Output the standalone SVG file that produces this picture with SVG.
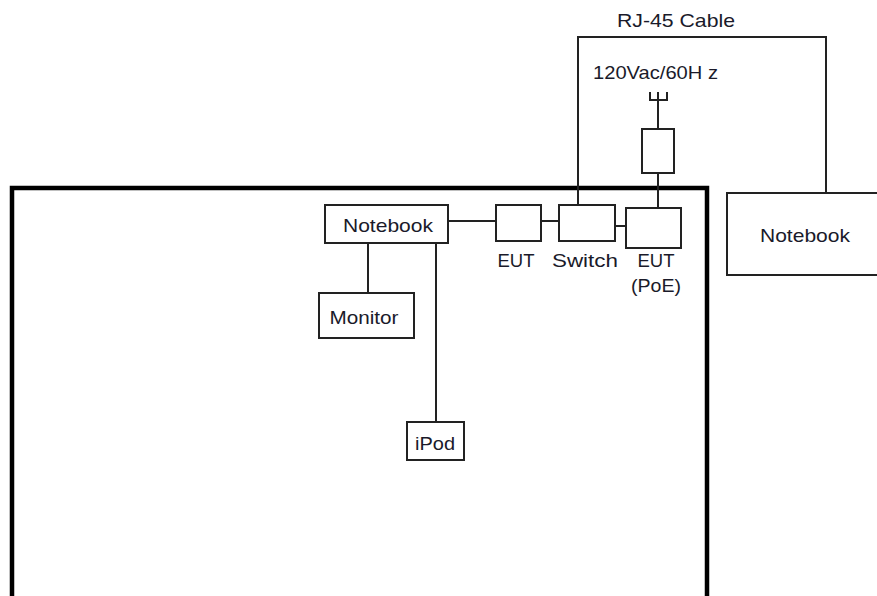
<svg xmlns="http://www.w3.org/2000/svg" width="877" height="596" viewBox="0 0 877 596">
<style>
.b{fill:#fff;stroke:#222;stroke-width:2}
.l{fill:none;stroke:#222;stroke-width:2}
text{font-family:"Liberation Sans",Arial,sans-serif;font-size:19px;fill:#1a1a2a}
.c{text-anchor:middle}
</style>
<rect width="877" height="596" fill="#fff"/>
<g id="room"><path d="M12 610 V188 H707 V610" fill="none" stroke="#000" stroke-width="4.5"/></g>
<g id="connectors">
<line class="l" x1="368" y1="243" x2="368" y2="293"/>
<line class="l" x1="436" y1="243" x2="436" y2="422"/>
<line class="l" x1="448" y1="221" x2="496" y2="221"/>
<line class="l" x1="541" y1="221" x2="559" y2="221"/>
<line class="l" x1="615" y1="226" x2="626" y2="226"/>
<polyline class="l" points="578,205 578,37 826,37 826,193"/>
<line class="l" x1="658" y1="173" x2="658" y2="208"/>
<line class="l" x1="658" y1="100" x2="658" y2="129"/>
</g>
<g id="notebook1"><rect class="b" x="325" y="205" width="123" height="38"/><text class="c" x="388" y="232" textLength="90" lengthAdjust="spacingAndGlyphs">Notebook</text></g>
<g id="monitor"><rect class="b" x="319" y="293" width="95" height="45"/><text class="c" x="364" y="324" textLength="69" lengthAdjust="spacingAndGlyphs">Monitor</text></g>
<g id="ipod"><rect class="b" x="407" y="422" width="57" height="38"/><text class="c" x="435" y="450" textLength="40" lengthAdjust="spacingAndGlyphs">iPod</text></g>
<g id="eut"><rect class="b" x="496" y="205" width="45" height="36"/><text class="c" x="516" y="267" textLength="37" lengthAdjust="spacingAndGlyphs">EUT</text></g>
<g id="switch"><rect class="b" x="559" y="205" width="56" height="36"/><text class="c" x="585" y="267" textLength="66" lengthAdjust="spacingAndGlyphs">Switch</text></g>
<g id="eutpoe"><rect class="b" x="626" y="208" width="55" height="40"/><text class="c" x="656" y="267" textLength="37" lengthAdjust="spacingAndGlyphs">EUT</text><text class="c" x="656" y="292" textLength="50" lengthAdjust="spacingAndGlyphs">(PoE)</text></g>
<g id="adapter"><rect class="b" x="642" y="129" width="32" height="44"/></g>
<g id="plug"><path class="l" d="M650 92 V100 H667 V92 M658 92 V100" stroke-width="1.8"/><text x="593" y="79" textLength="125" lengthAdjust="spacingAndGlyphs">120Vac/60H z</text></g>
<g id="notebook2"><rect class="b" x="727" y="193" width="160" height="82"/><text class="c" x="805" y="242" textLength="90" lengthAdjust="spacingAndGlyphs">Notebook</text></g>
<g id="cable-label"><text class="c" x="676" y="27" textLength="118" lengthAdjust="spacingAndGlyphs">RJ-45 Cable</text></g>
</svg>
